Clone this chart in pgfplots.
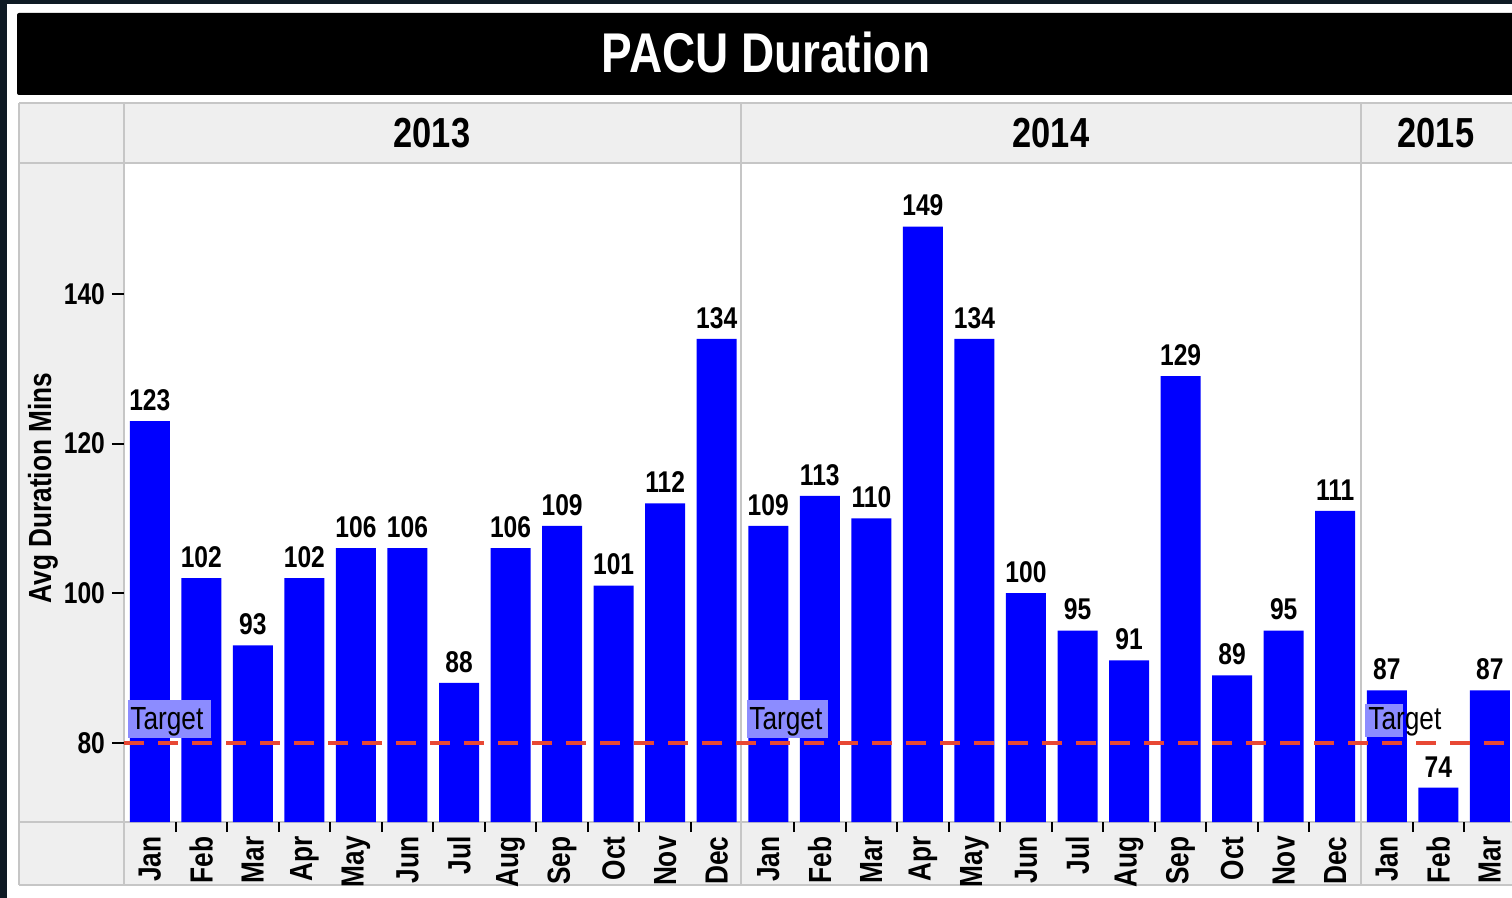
\documentclass[border=0pt]{standalone}
\usepackage{pgfplots}
\pgfplotsset{compat=1.18}
\usepackage{fontspec}
\setmainfont{Liberation Sans}[FakeStretch=0.82]
\definecolor{bgdark}{RGB}{14,26,36}
\definecolor{panelgray}{RGB}{239,239,239}
\definecolor{gridgray}{RGB}{198,198,198}
\definecolor{barblue}{RGB}{0,0,255}
\definecolor{tgtred}{RGB}{232,72,52}
\definecolor{tgtbox}{RGB}{140,140,255}
\begin{document}
\begin{tikzpicture}
\useasboundingbox (0,0) rectangle (756pt,-449pt);
\fill[bgdark] (0,0) rectangle (756pt,-449pt);
\fill[white] (3.5pt,-2pt) rectangle (760pt,-452pt);
\fill[black,rounded corners=1pt] (8.5pt,-6.5pt) rectangle (760pt,-47.5pt);
\node[white,font=\bfseries\fontsize{28}{28}\selectfont] at (383pt,-26pt) {PACU Duration};
% gray panels
\fill[panelgray] (9.5pt,-51.5pt) rectangle (760pt,-81.5pt);
\fill[panelgray] (9.5pt,-81.5pt) rectangle (62pt,-411pt);
\fill[panelgray] (9.5pt,-411pt) rectangle (760pt,-442.5pt);
% grid lines
\begin{scope}[gridgray,line width=1.3pt]
\draw (9.5pt,-51.5pt) -- (760pt,-51.5pt);
\draw (9.5pt,-81.5pt) -- (760pt,-81.5pt);
\draw (9.5pt,-411pt) -- (760pt,-411pt);
\draw (9.5pt,-442.5pt) -- (760pt,-442.5pt);
\draw (9.5pt,-51.5pt) -- (9.5pt,-442.5pt);
\draw (62pt,-51.5pt) -- (62pt,-442.5pt);
\draw (370.5pt,-51.5pt) -- (370.5pt,-442.5pt);
\draw (680.5pt,-51.5pt) -- (680.5pt,-442.5pt);
\end{scope}
% year labels
\begin{scope}[font=\bfseries\fontsize{21}{21}\selectfont]
\node at (216pt,-66.5pt) {2013};
\node at (525.5pt,-66.5pt) {2014};
\node at (718pt,-66.5pt) {2015};
\end{scope}
\begin{axis}[
  at={(62pt,-411pt)}, anchor=south west,
  scale only axis, width=694pt, height=329.5pt,
  xmin=-0.5, xmax=26.43, ymin=69.4, ymax=157.5,
  axis line style={draw=none},
  xtick pos=bottom, ytick pos=left,
  ytick={80,100,120,140},
  major tick length=6pt, tick align=outside,
  ytick style={black,line width=1pt},
  yticklabel style={font=\bfseries\fontsize{15}{15}\selectfont},
  /pgf/number format/assume math mode=true,
  xtick={0,...,26},
  xticklabels={Jan,Feb,Mar,Apr,May,Jun,Jul,Aug,Sep,Oct,Nov,Dec,Jan,Feb,Mar,Apr,May,Jun,Jul,Aug,Sep,Oct,Nov,Dec,Jan,Feb,Mar},
  xtick style={draw=none},
  xticklabel style={rotate=90,anchor=east,inner sep=1pt,font=\bfseries\fontsize{16}{16}\selectfont},
  extra x ticks={0.5,1.5,2.5,3.5,4.5,5.5,6.5,7.5,8.5,9.5,10.5,12.5,13.5,14.5,15.5,16.5,17.5,18.5,19.5,20.5,21.5,22.5,24.5,25.5},
  extra x tick labels={},
  extra x tick style={xtick style={draw=black,line width=1pt},major tick length=5pt,tick align=outside,xtick pos=bottom},
]
\addplot[ybar,bar width=20pt,fill=barblue,draw=none,
  nodes near coords,
  every node near coord/.append style={font=\bfseries\fontsize{15}{15}\selectfont,black,inner sep=0pt,yshift=5pt}]
 coordinates {
 (0,123) (1,102) (2,93) (3,102) (4,106) (5,106) (6,88) (7,106) (8,109) (9,101) (10,112) (11,134)
 (12,109) (13,113) (14,110) (15,149) (16,134) (17,100) (18,95) (19,91) (20,129) (21,89) (22,95) (23,111)
 (24,87) (25,74) (26,87)};
\addplot[tgtred,line width=2pt,dash pattern=on 10pt off 7pt] coordinates {(-0.5,80) (26.43,80)};
\end{axis}
% target labels
\fill[tgtbox] (64pt,-350pt) rectangle (105.5pt,-369pt);
\fill[tgtbox] (373.5pt,-350pt) rectangle (414pt,-369pt);
\fill[tgtbox] (682.5pt,-352pt) rectangle (701.5pt,-368.5pt);
\begin{scope}[font=\fontsize{16}{16}\selectfont,inner sep=0pt,anchor=base west]
\node at (65pt,-365pt) {Target};
\node at (374.5pt,-365pt) {Target};
\node at (684pt,-365pt) {Target};
\end{scope}
% y label
\node[rotate=90,font=\bfseries\fontsize{16}{16}\selectfont] at (21.5pt,-244pt) {Avg Duration Mins};
\end{tikzpicture}
\end{document}
